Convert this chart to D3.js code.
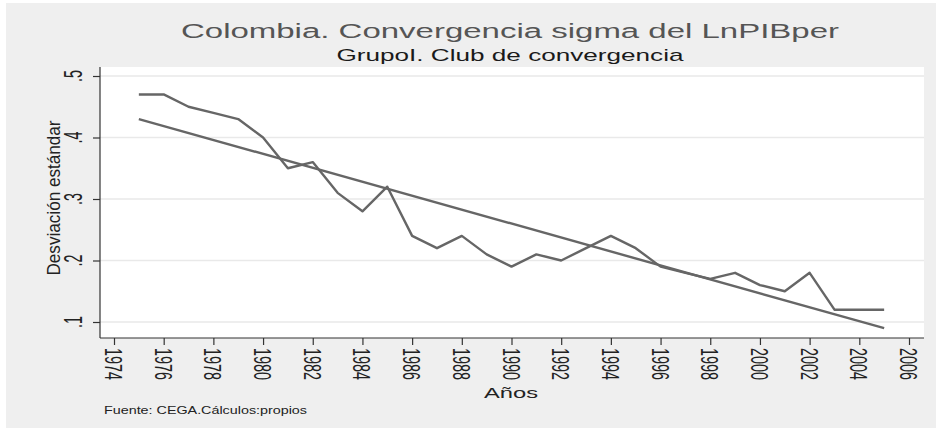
<!DOCTYPE html>
<html><head><meta charset="utf-8">
<script src="https://cdn.jsdelivr.net/npm/d3@7"></script>
<style>html,body{margin:0;padding:0;background:#fff}svg{display:block}</style>
</head><body>
<script>
const years = [1975,1976,1977,1978,1979,1980,1981,1982,1983,1984,1985,1986,1987,1988,1989,1990,1991,1992,1993,1994,1995,1996,1997,1998,1999,2000,2001,2002,2003,2004,2005];
const sigma = [0.47,0.47,0.45,0.44,0.43,0.40,0.35,0.36,0.31,0.28,0.32,0.24,0.22,0.24,0.21,0.19,0.21,0.20,0.22,0.24,0.22,0.19,0.18,0.17,0.18,0.16,0.15,0.18,0.12,0.12,0.12];
const trendYears = [1975, 2005];
const trendValues = [0.43, 0.09];
const xTicks = [1974,1976,1978,1980,1982,1984,1986,1988,1990,1992,1994,1996,1998,2000,2002,2004,2006];
const yTicks = [0.1,0.2,0.3,0.4,0.5];
const yTickLabels = [".1",".2",".3",".4",".5"];

const W = 936, H = 430;
const svg = d3.select("body").append("svg").attr("width", W).attr("height", H);
const font = "Liberation Sans, Arial, Helvetica, sans-serif";

svg.append("rect").attr("x",6).attr("y",3).attr("width",930).attr("height",425).attr("fill","#efefef");
const plot = {l:100, r:924, t:67, b:338};
svg.append("rect").attr("x",plot.l).attr("y",plot.t).attr("width",plot.r-plot.l).attr("height",plot.b-plot.t).attr("fill","#fff");

const x = d3.scaleLinear().domain([1974,2006]).range([114,909]);
const y = d3.scaleLinear().domain([0.1,0.5]).range([322,76]);

// gridlines
svg.append("g").selectAll("line").data(yTicks).join("line")
  .attr("x1",plot.l).attr("x2",plot.r).attr("y1",d=>y(d)).attr("y2",d=>y(d))
  .attr("stroke","#e9e9e9").attr("stroke-width",1.5);

// axes
const yAxis = svg.append("g").attr("transform",`translate(${plot.l},0)`)
  .call(d3.axisLeft(y).tickValues(yTicks).tickSize(7).tickFormat(""));
yAxis.select(".domain").attr("d",`M0,${plot.t}V${plot.b}`);
const xAxis = svg.append("g").attr("transform",`translate(0,${plot.b})`)
  .call(d3.axisBottom(x).tickValues(xTicks).tickSize(7).tickFormat(""));
xAxis.select(".domain").attr("d",`M${plot.l},0H${plot.r}`);
svg.selectAll(".domain").attr("stroke","#333").attr("stroke-width",1.2);
svg.selectAll(".tick line").attr("stroke","#333").attr("stroke-width",1.2);

// y tick labels (rotated)
svg.append("g").selectAll("text").data(yTicks).join("text")
  .attr("transform",d=>`translate(82,${y(d)}) rotate(-90)`)
  .attr("text-anchor","middle")
  .attr("font-family",font).attr("font-size",25).attr("fill","#222")
  .attr("textLength",12).attr("lengthAdjust","spacingAndGlyphs")
  .text((d,i)=>yTickLabels[i]);

// x tick labels (rotated)
svg.append("g").selectAll("text").data(xTicks).join("text")
  .attr("transform",d=>`translate(${x(d)-9},348) rotate(90)`)
  .attr("text-anchor","start")
  .attr("font-family",font).attr("font-size",24).attr("fill","#222")
  .attr("textLength",32).attr("lengthAdjust","spacingAndGlyphs")
  .text(d=>d);

// lines
const line = d3.line().x(d=>x(d[0])).y(d=>y(d[1]));
svg.append("path").datum(years.map((yr,i)=>[yr,sigma[i]]))
  .attr("d",line).attr("fill","none").attr("stroke","#666").attr("stroke-width",2.4).attr("stroke-linejoin","round");
svg.append("path").datum(trendYears.map((yr,i)=>[yr,trendValues[i]]))
  .attr("d",line).attr("fill","none").attr("stroke","#666").attr("stroke-width",2.4);

// titles
svg.append("text").attr("x",510).attr("y",38).attr("text-anchor","middle")
  .attr("font-family",font).attr("font-size",20).attr("fill","#555")
  .attr("textLength",658).attr("lengthAdjust","spacingAndGlyphs")
  .text("Colombia. Convergencia sigma del LnPIBper");
svg.append("text").attr("x",510).attr("y",61).attr("text-anchor","middle")
  .attr("font-family",font).attr("font-size",17).attr("fill","#1a1a1a")
  .attr("textLength",347).attr("lengthAdjust","spacingAndGlyphs")
  .text("GrupoI. Club de convergencia");

// axis titles
svg.append("text").attr("transform","translate(60,198) rotate(-90)").attr("text-anchor","middle")
  .attr("font-family",font).attr("font-size",18).attr("fill","#222")
  .attr("textLength",155).attr("lengthAdjust","spacingAndGlyphs")
  .text("Desviación estándar");
svg.append("text").attr("x",511).attr("y",398).attr("text-anchor","middle")
  .attr("font-family",font).attr("font-size",15).attr("fill","#222")
  .attr("textLength",54).attr("lengthAdjust","spacingAndGlyphs")
  .text("Años");
svg.append("text").attr("x",104).attr("y",414)
  .attr("font-family",font).attr("font-size",10.5).attr("fill","#222")
  .attr("textLength",203).attr("lengthAdjust","spacingAndGlyphs")
  .text("Fuente: CEGA.Cálculos:propios");
</script>
</body></html>
